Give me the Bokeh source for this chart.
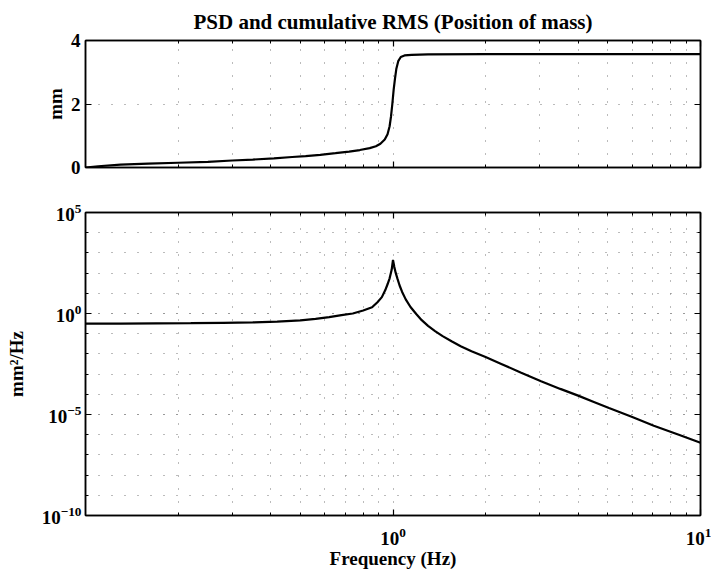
from bokeh.plotting import figure
from bokeh.layouts import column
from bokeh.models import Range1d, FixedTicker, LogAxis, LinearAxis, CustomJSTickFormatter, LogTickFormatter
from bokeh.embed import file_html
from bokeh.resources import INLINE

# ---- data ----
freq_rms = [0.10, 0.11, 0.13, 0.16, 0.20, 0.25, 0.30, 0.35, 0.41, 0.47, 0.52, 0.58,
            0.65, 0.72, 0.78, 0.84, 0.88, 0.91, 0.94, 0.96, 0.975, 0.985, 0.995,
            1.005, 1.015, 1.025, 1.04, 1.06, 1.09, 1.15, 1.3, 2.0, 10.0]
rms_mm = [0.00, 0.04, 0.09, 0.12, 0.15, 0.18, 0.22, 0.25, 0.29, 0.33, 0.36, 0.40,
          0.45, 0.50, 0.55, 0.61, 0.67, 0.75, 0.88, 1.05, 1.30, 1.60, 2.00,
          2.45, 2.80, 3.10, 3.35, 3.48, 3.53, 3.55, 3.56, 3.57, 3.57]

freq_psd = [0.10, 0.13, 0.17, 0.22, 0.28, 0.35, 0.42, 0.50, 0.56, 0.62, 0.68, 0.74,
            0.80, 0.855, 0.89, 0.92, 0.944, 0.96, 0.975, 0.99, 1.00, 1.01, 1.02,
            1.035, 1.05, 1.07, 1.10, 1.14, 1.19, 1.24, 1.30, 1.37, 1.45, 1.55,
            1.66, 1.80, 2.00, 2.25, 2.60, 3.03, 3.50, 4.00, 4.50, 5.04, 6.00,
            7.05, 8.50, 10.0]
psd_mm2 = [0.316, 0.316, 0.324, 0.331, 0.347, 0.363, 0.398, 0.457, 0.537, 0.661,
           0.832, 1.0, 1.41, 2.04, 3.63, 6.46, 14.5, 28.0, 55.0, 145.0, 447.0,
           200.0, 105.0, 50.0, 25.0, 12.0, 5.0, 2.1, 0.95, 0.468, 0.245, 0.135,
           0.0759, 0.0420, 0.0240, 0.0135, 0.00700, 0.00320, 0.00120, 4.4e-4,
           1.85e-4, 8.6e-5, 4.2e-5, 2.1e-5, 7.6e-6, 2.8e-6, 1.0e-6, 3.98e-7]

x_major_ticks = [1, 10]
x_minor_ticks = [0.2, 0.3, 0.4, 0.5, 0.6, 0.7, 0.8, 0.9, 2, 3, 4, 5, 6, 7, 8, 9]
rms_ticks = [0, 2, 4]
psd_major_ticks = [1e-10, 1e-5, 1e0, 1e5]
psd_minor_ticks = [1e-10, 1e-9, 1e-8, 1e-7, 1e-6, 1e-5, 1e-4, 1e-3, 1e-2, 1e-1,
                   1e0, 1e1, 1e2, 1e3, 1e4, 1e5]

FONT = "Liberation Serif"
W = 711


def blank():
    return CustomJSTickFormatter(code="return '';")


def style_axis(ax, labels=True):
    ax.axis_line_color = "black"
    ax.axis_line_width = 1.5
    ax.major_tick_line_color = "black"
    ax.major_tick_line_width = 1.2
    ax.minor_tick_line_color = "black"
    ax.major_tick_in = 6
    ax.major_tick_out = 0
    ax.minor_tick_in = 3
    ax.minor_tick_out = 0
    ax.major_label_text_font = FONT
    ax.major_label_text_font_style = "bold"
    ax.major_label_text_font_size = "19px"
    ax.major_label_text_color = "black"
    ax.axis_label_text_font = FONT
    ax.axis_label_text_font_style = "bold"
    ax.axis_label_text_font_size = "19px"
    ax.axis_label_text_color = "black"
    if not labels:
        ax.formatter = blank()
        ax.major_label_standoff = 0
        ax.major_label_text_font_size = "0px"


def style_grid(p):
    for g in (p.xgrid, p.ygrid):
        g.grid_line_color = "#777777"
        g.grid_line_dash = "1 12"
        g.grid_line_width = 1
        g.minor_grid_line_color = "#777777"
        g.minor_grid_line_dash = "1 12"
        g.minor_grid_line_width = 1


# ---- top panel: cumulative RMS ----
p1 = figure(width=W, height=189, x_axis_type="log",
            x_range=Range1d(0.1, 10), y_range=Range1d(0, 4),
            output_backend="svg", toolbar_location=None,
            min_border_left=85, min_border_right=11,
            min_border_top=39, min_border_bottom=22)
p1.title.text = "PSD and cumulative RMS (Position of mass)"
p1.title.align = "center"
p1.title.text_font = FONT
p1.title.text_font_size = "21px"
p1.title.text_font_style = "bold"
p1.title.text_color = "black"
p1.title.standoff = 14
p1.outline_line_color = "black"
p1.outline_line_width = 1.5

p1.xaxis.ticker = FixedTicker(ticks=x_major_ticks, minor_ticks=x_minor_ticks)
style_axis(p1.xaxis[0], labels=False)
p1.yaxis.ticker = FixedTicker(ticks=rms_ticks)
style_axis(p1.yaxis[0])
p1.yaxis.axis_label = "mm"
p1.yaxis.axis_label_standoff = 2
p1.xgrid.ticker = FixedTicker(ticks=x_major_ticks, minor_ticks=x_minor_ticks)
style_grid(p1)
p1.ygrid.minor_grid_line_color = None

ax_r1 = LinearAxis(ticker=FixedTicker(ticks=rms_ticks))
style_axis(ax_r1, labels=False)
p1.add_layout(ax_r1, "right")
ax_t1 = LogAxis(ticker=FixedTicker(ticks=x_major_ticks, minor_ticks=x_minor_ticks))
style_axis(ax_t1, labels=False)
p1.add_layout(ax_t1, "above")

p1.line(freq_rms, rms_mm, line_color="black", line_width=2.2)

# ---- bottom panel: PSD ----
p2 = figure(width=W, height=386, x_axis_type="log", y_axis_type="log",
            x_range=Range1d(0.1, 10), y_range=Range1d(1e-10, 1e5),
            output_backend="svg", toolbar_location=None,
            min_border_left=85, min_border_right=11,
            min_border_top=23, min_border_bottom=60)
p2.outline_line_color = "black"
p2.outline_line_width = 1.5

p2.xaxis.ticker = FixedTicker(ticks=x_major_ticks, minor_ticks=x_minor_ticks)
style_axis(p2.xaxis[0])
p2.xaxis.formatter = LogTickFormatter()
p2.xaxis.axis_label = "Frequency (Hz)"
p2.xaxis.axis_label_standoff = 0
p2.xaxis.major_label_standoff = 12
p2.yaxis.ticker = FixedTicker(ticks=psd_major_ticks, minor_ticks=psd_minor_ticks)
style_axis(p2.yaxis[0])
p2.yaxis.formatter = LogTickFormatter()
p2.yaxis.axis_label = "mm\u00b2/Hz"
p2.yaxis.major_label_standoff = 4
p2.yaxis.axis_label_standoff = 12
style_grid(p2)

ax_r2 = LogAxis(ticker=FixedTicker(ticks=psd_major_ticks, minor_ticks=psd_minor_ticks))
style_axis(ax_r2, labels=False)
p2.add_layout(ax_r2, "right")
ax_t2 = LogAxis(ticker=FixedTicker(ticks=x_major_ticks, minor_ticks=x_minor_ticks))
style_axis(ax_t2, labels=False)
p2.add_layout(ax_t2, "above")

p2.line(freq_psd, psd_mm2, line_color="black", line_width=2.2)

layout = column(p1, p2)
open("out.html", "w").write(file_html(layout, INLINE))
